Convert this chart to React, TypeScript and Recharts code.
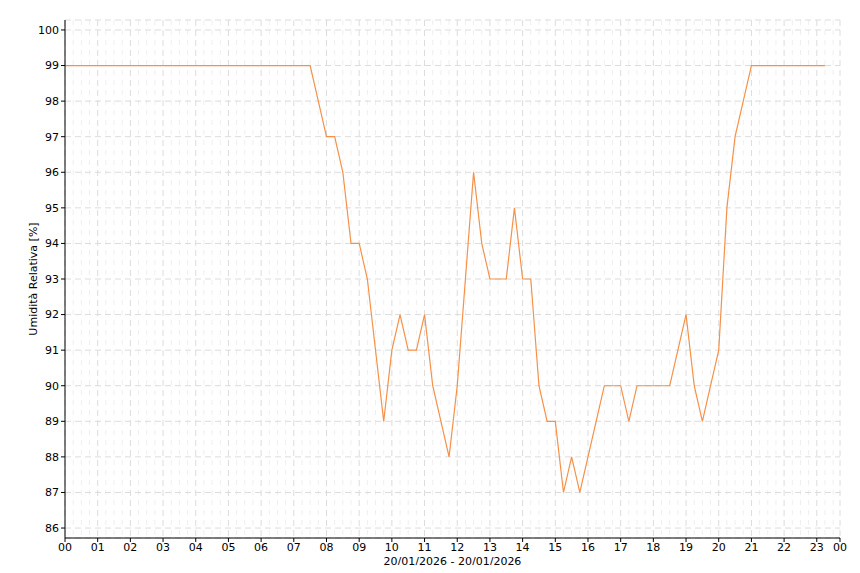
import React from "react"
import {
  LineChart,
  Line,
  XAxis,
  YAxis,
  CartesianGrid,
} from "recharts"

// hours of day (decimal) and relative humidity readings, 20/01/2026
const hours = [
  0, 7.5, 8, 8.25, 8.5, 8.75, 9, 9.25, 9.75, 10, 10.25, 10.5, 10.75, 11, 11.25,
  11.75, 12, 12.25, 12.5, 12.75, 13, 13.5, 13.75, 14, 14.25, 14.5, 14.75, 15,
  15.25, 15.5, 15.75, 16, 16.25, 16.5, 17, 17.25, 17.5, 18.5, 18.75, 19, 19.25,
  19.5, 19.75, 20, 20.25, 20.5, 20.75, 21, 23.25,
]
const humidity = [
  99, 99, 97, 97, 96, 94, 94, 93, 89, 91, 92, 91, 91, 92, 90,
  88, 90, 93, 96, 94, 93, 93, 95, 93, 93, 90, 89, 89,
  87, 88, 87, 88, 89, 90, 90, 89, 90, 90, 91, 92, 90,
  89, 90, 91, 95, 97, 98, 99, 99,
]

const xMax = 23.71
const hourTicks = [
  0, 1, 2, 3, 4, 5, 6, 7, 8, 9, 10, 11, 12, 13, 14, 15, 16, 17, 18, 19, 20, 21,
  22, 23, xMax,
]
const yTicks = [86, 87, 88, 89, 90, 91, 92, 93, 94, 95, 96, 97, 98, 99, 100]
const quarterTicks: number[] = []
for (let h = 0; h < 24; h++) {
  quarterTicks.push(h + 0.25, h + 0.5, h + 0.75)
}

const data = hours.map((h, i) => ({ h, rh: humidity[i] }))

const font = "'DejaVu Sans', sans-serif"
const tickStyle = { fill: "#000", fontSize: 11, fontFamily: font }

function fmtHour(v: number) {
  const h = v >= xMax ? 0 : Math.round(v)
  return String(h).padStart(2, "0")
}

export default function App() {
  return (
    <div style={{ margin: -8, width: 860, height: 573, background: "#fff" }}>
      <LineChart
        width={860}
        height={573}
        data={data}
        margin={{ top: 20, right: 20, bottom: 0, left: 25 }}
      >
        <CartesianGrid
          horizontal={false}
          verticalValues={quarterTicks.filter((t) => t < xMax)}
          stroke="#efefef"
          strokeDasharray="5 5"
        />
        <CartesianGrid stroke="#dcdcdc" strokeDasharray="6 4" />
        <XAxis
          type="number"
          dataKey="h"
          domain={[0, xMax]}
          ticks={hourTicks}
          tickFormatter={fmtHour}
          interval={0}
          height={35}
          tick={tickStyle}
          tickSize={4}
          tickMargin={1}
          axisLine={{ stroke: "#000" }}
          tickLine={{ stroke: "#000" }}
          label={{
            value: "20/01/2026 - 20/01/2026",
            position: "insideBottom",
            offset: 8,
            style: { fill: "#000", fontSize: 11, fontFamily: font },
          }}
        />
        <XAxis
          xAxisId="top"
          orientation="top"
          type="number"
          domain={[0, xMax]}
          ticks={[]}
          height={0}
          axisLine={{ stroke: "#000" }}
          tick={false}
        />
        <YAxis
          type="number"
          domain={[85.72, 100.28]}
          ticks={yTicks}
          interval={0}
          width={40}
          tick={tickStyle}
          tickSize={4}
          tickMargin={2}
          axisLine={{ stroke: "#000" }}
          tickLine={{ stroke: "#000" }}
          label={{
            value: "Umidità Relativa [%]",
            angle: -90,
            position: "insideLeft",
            offset: 8,
            style: {
              fill: "#000",
              fontSize: 11,
              fontFamily: font,
              textAnchor: "middle",
            },
          }}
        />
        <YAxis
          yAxisId="right"
          orientation="right"
          domain={[85.72, 100.28]}
          ticks={[]}
          width={0}
          tick={false}
          axisLine={{ stroke: "#000" }}
        />
        <Line
          type="linear"
          dataKey="rh"
          stroke="#f5914a"
          strokeWidth={1.2}
          dot={false}
          isAnimationActive={false}
        />
      </LineChart>
    </div>
  )
}
